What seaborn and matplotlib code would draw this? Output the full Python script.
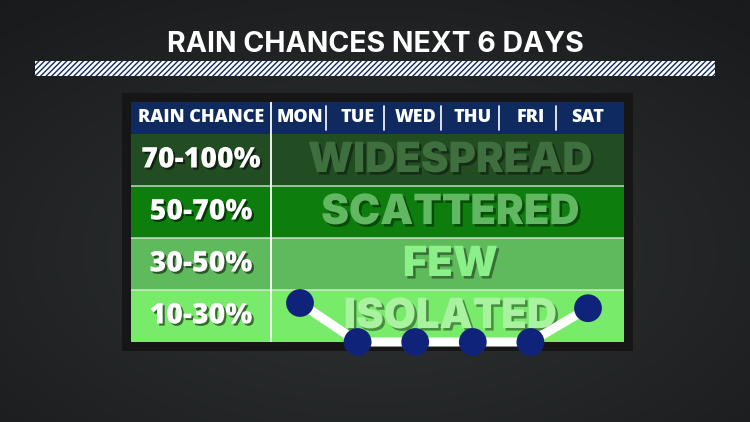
import numpy as np
import pandas as pd
import matplotlib
matplotlib.use("Agg")
import matplotlib.pyplot as plt
import matplotlib.patheffects as pe
from matplotlib.patches import Rectangle
import seaborn as sns

# ---- data ----
title = "RAIN CHANCES NEXT 6 DAYS"
days = ["MON", "TUE", "WED", "THU", "FRI", "SAT"]
rain_chance = [25, 10, 10, 10, 10, 23]          # percent
band_edges = [10, 30, 50, 70, 100]
band_labels = ["10-30%", "30-50%", "50-70%", "70-100%"]
band_names = ["ISOLATED", "FEW", "SCATTERED", "WIDESPREAD"]
header_label = "RAIN CHANCE"

# ---- style ----
sns.set_theme(style="white")
plt.rcParams["font.family"] = ["Open Sans", "DejaVu Sans"]
matplotlib.rcParams["hatch.linewidth"] = 1.0

BG = "#25282a"
FRAME = "#161616"
NAVY = "#0f2a5f"
row_colors = ["#78ec6a", "#5fba5c", "#0d7d0d", "#224c22"]
word_colors = ["#a9f3a0", "#8cf08a", "#62b862", "#3f6f3f"]
DOT = "#10237a"

W, H = 750, 422
fig = plt.figure(figsize=(W / 100, H / 100), dpi=100, facecolor=BG)

# background gradient
bgax = fig.add_axes([0, 0, 1, 1])
yy, xx = np.mgrid[0:1:200j, 0:1:300j]
grad = 1 - 0.6 * np.sqrt((xx - 0.5) ** 2 + (yy - 0.6) ** 2)
bgax.imshow(grad, cmap=matplotlib.colors.LinearSegmentedColormap.from_list(
    "bg", ["#191b1c", "#303335"]), aspect="auto", extent=[0, 1, 0, 1], vmin=0.55, vmax=1)
bgax.set_xlim(0, 1); bgax.set_ylim(0, 1); bgax.axis("off")

# title
fig.text(0.5, 1 - 45 / H, title, ha="center", va="center", color="white",
         fontsize=20.5, fontweight="bold", family=["Inter", "DejaVu Sans"])
# hatched strip
fig.patches.append(Rectangle((35 / W, 1 - 76 / H), 680 / W, 15 / H, transform=fig.transFigure,
                             facecolor="white", edgecolor=NAVY, hatch="//////", linewidth=0))

# dark frame
fig.patches.append(Rectangle((122 / W, 1 - 351 / H), (633 - 122) / W, (351 - 93) / H,
                             transform=fig.transFigure, facecolor=FRAME, edgecolor="none"))

# table axes: x in day units, y in band units
px_per_day = 57.6
x0_px = 300
xl = (131 - x0_px) / px_per_day
xr = (624 - x0_px) / px_per_day
row_h = 52.0
header_top = (342 - 102) / row_h
ax = fig.add_axes([131 / W, 1 - 342 / H, (624 - 131) / W, (342 - 102) / H])
ax.set_xlim(xl, xr)
ax.set_ylim(0, header_top)
ax.axis("off")
ax.set_zorder(3)

label_split = -0.5
shadow = [pe.withSimplePatchShadow(offset=(1.5, -1.5), shadow_rgbFace="black", alpha=0.55)]
for i, (lab, name) in enumerate(zip(band_labels, band_names)):
    ax.add_patch(Rectangle((xl, i), xr - xl, 1, facecolor=row_colors[i], edgecolor="none"))
    ax.text((xl + label_split) / 2, i + 0.5, lab, ha="center", va="center", color="white",
            fontsize=20.5, fontweight="extra bold", path_effects=shadow)
    ax.text((label_split + xr) / 2 + 0.05, i + 0.48, name, ha="center", va="center",
            color=word_colors[i], fontsize=30, fontweight="black",
            family=["Inter", "DejaVu Sans"],
            path_effects=[pe.withSimplePatchShadow(offset=(1.8, -1.8), shadow_rgbFace="black", alpha=0.4)])
    if i > 0:
        ax.plot([xl, xr], [i, i], color="#dfe8df", lw=1.2, alpha=0.8)

# header
ax.add_patch(Rectangle((xl, 4), xr - xl, header_top - 4, facecolor=NAVY, edgecolor="none"))
hy = (4 + header_top) / 2
ax.text((xl + label_split) / 2, hy, header_label, ha="center", va="center", color="white",
        fontsize=13, fontweight="extra bold")
for i, d in enumerate(days):
    ax.text(i, hy, d, ha="center", va="center", color="white", fontsize=13, fontweight="extra bold")
    if i < len(days) - 1:
        ax.plot([i + 0.45, i + 0.45], [4.08, header_top - 0.08], color="white", lw=1.2)
ax.plot([label_split, label_split], [0, header_top], color="white", lw=1.3)

# data line
yvals = np.interp(rain_chance, band_edges, np.arange(len(band_edges)))
df = pd.DataFrame({"day": np.arange(len(days)), "band": yvals})
sns.lineplot(data=df, x="day", y="band", ax=ax, color="white", lw=6.5, clip_on=False,
             zorder=5, legend=False)
sns.scatterplot(data=df, x="day", y="band", ax=ax, color=DOT, s=400, edgecolor="none",
                clip_on=False, zorder=6, legend=False)
ax.set_xlim(xl, xr)
ax.set_ylim(0, header_top)
ax.axis("off")

fig.savefig("out.png", dpi=100, facecolor=BG)
